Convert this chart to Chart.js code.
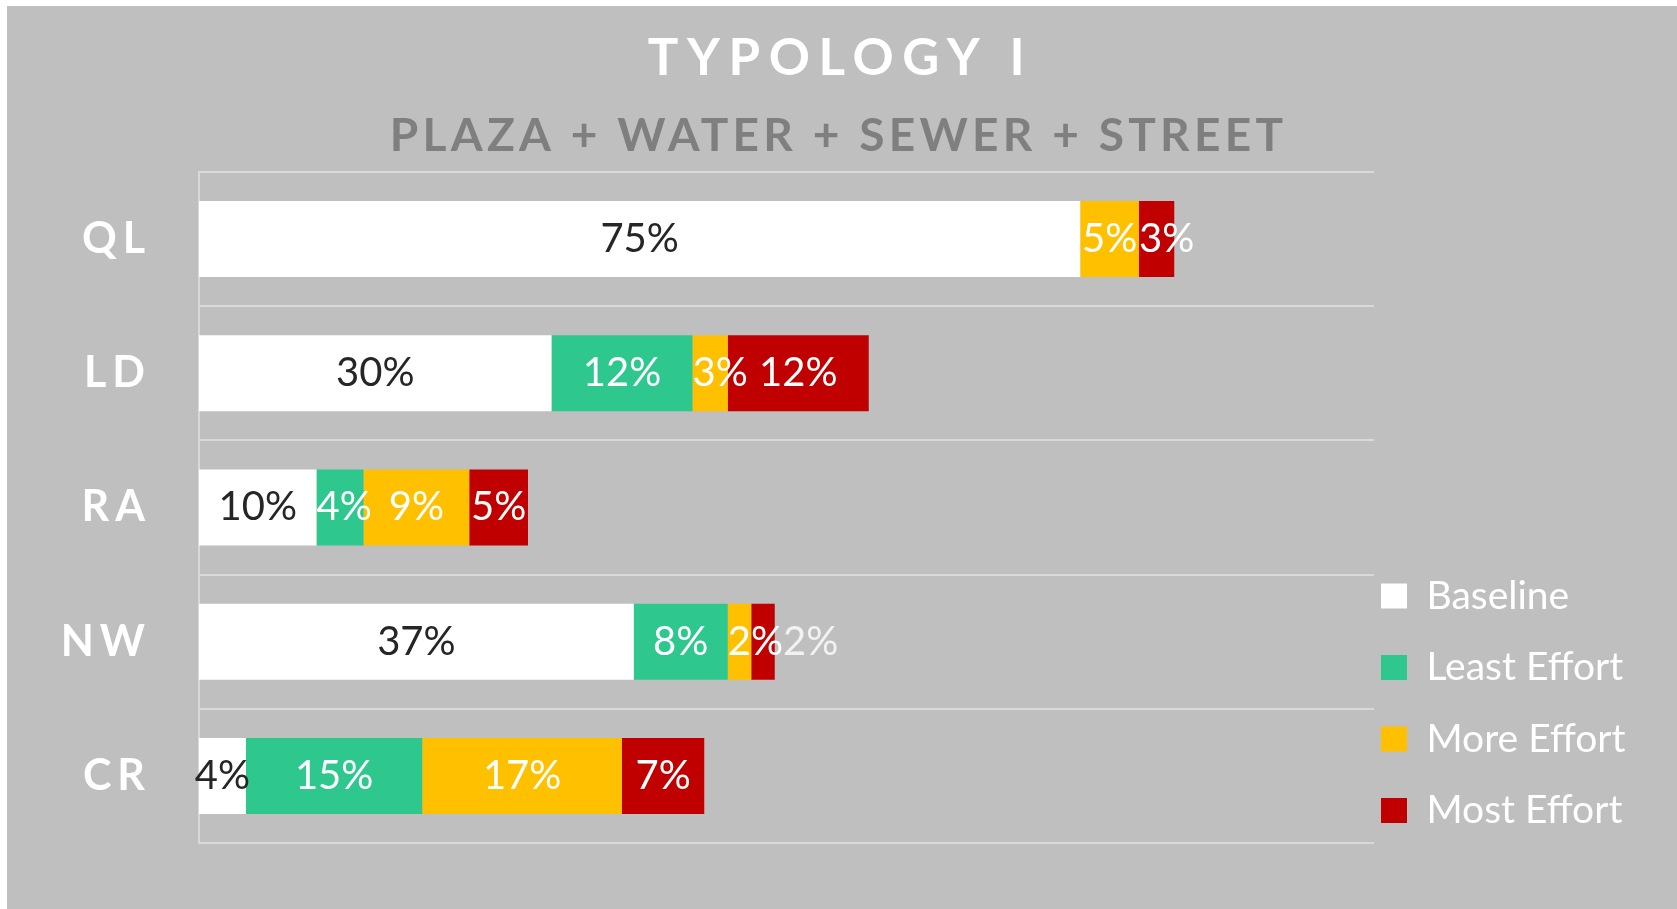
<!DOCTYPE html>
<html><head><meta charset="utf-8">
<script src="https://cdn.jsdelivr.net/npm/chart.js@4.4.1/dist/chart.umd.min.js"></script>
<style>
html,body{margin:0;padding:0;background:#fff;width:1677px;height:909px;overflow:hidden}
#wrap{position:absolute;left:7px;top:6px;width:1670px;height:903px;background:#bfbfbf}
canvas{display:block}
</style></head><body>
<div id="wrap"><canvas id="c" width="1670" height="903"></canvas></div>
<script>
const titleText = 'TYPOLOGY I';
const subtitleText = 'PLAZA + WATER + SEWER + STREET';
const categories = ['QL', 'LD', 'RA', 'NW', 'CR'];
const seriesNames = ['Baseline', 'Least Effort', 'More Effort', 'Most Effort'];
const baseline    = [75, 30, 10, 37, 4];
const leastEffort = [0, 12, 4, 8, 15];
const moreEffort  = [5, 3, 9, 2, 17];
const mostEffort  = [3, 12, 5, 2, 7];
const axisMin = 0;
const axisMax = 100;

const FONT = 'Lato';
const LEGEND_SHIFT = {x: -25.5, y: 19.5};
const TITLE_SHIFT = {x: 6.5, y: 0};
const SUBTITLE_SHIFT = {x: 4.5, y: 0};

function wrapMethod(obj, name, spacing, shift) {
  const orig = obj[name];
  obj[name] = function (...args) {
    const c = this.ctx;
    c.save();
    c.letterSpacing = spacing;
    if (shift) c.translate(shift.x, shift.y);
    const r = orig.apply(this, args);
    c.restore();
    return r;
  };
}

const spacingPlugin = {
  id: 'spacing',
  beforeDraw(chart) {
    chart.boxes.forEach(box => {
      if (box._spacingWrapped) return;
      box._spacingWrapped = true;
      if (box === chart.legend) wrapMethod(box, 'draw', '0px', LEGEND_SHIFT);
      else if (box === chart.titleBlock) wrapMethod(box, 'draw', '8.6px', TITLE_SHIFT);
      else if (box.options && box.options.text === subtitleText) wrapMethod(box, 'draw', '4.3px', SUBTITLE_SHIFT);
      else if (box.id === 'y') wrapMethod(box, 'drawLabels', '6px');
    });
  }
};

const labelPlugin = {
  id: 'segLabels',
  afterDatasetsDraw(chart) {
    const ctx = chart.ctx;
    ctx.save();
    ctx.letterSpacing = '0px';
    ctx.font = '40px ' + FONT;
    ctx.textBaseline = 'middle';
    ctx.textAlign = 'left';
    chart.data.labels.forEach((cat, i) => {
      let barEnd = -Infinity;
      chart.data.datasets.forEach((ds, d) => {
        const el = chart.getDatasetMeta(d).data[i];
        if (el) barEnd = Math.max(barEnd, el.x);
      });
      let prevRight = -Infinity;
      chart.data.datasets.forEach((ds, d) => {
        const v = ds.data[i];
        if (!v) return;
        const el = chart.getDatasetMeta(d).data[i];
        const txt = v + '%';
        const w = ctx.measureText(txt).width;
        let left = (el.base + el.x) / 2 - w / 2;
        if (d > 0) left = Math.max(left, el.base);
        left = Math.max(left, prevRight);
        const outside = left >= barEnd - 1;
        ctx.fillStyle = outside ? '#f2f2f2' : ds.labelColor;
        ctx.fillText(txt, left, el.y);
        prevRight = left + w;
      });
    });
    ctx.restore();
  }
};

const colors = ['#ffffff', '#2ec88f', '#ffc000', '#c00000'];
const labelColors = ['#262626', '#ffffff', '#ffffff', '#ffffff'];
const seriesData = [baseline, leastEffort, moreEffort, mostEffort];

const chart = new Chart(document.getElementById('c'), {
  type: 'bar',
  data: {
    labels: categories,
    datasets: seriesNames.map((name, k) => ({
      label: name,
      data: seriesData[k],
      backgroundColor: colors[k],
      borderWidth: 0,
      labelColor: labelColors[k],
      categoryPercentage: 0.566,
      barPercentage: 1
    }))
  },
  options: {
    indexAxis: 'y',
    responsive: false,
    animation: false,
    events: [],
    layout: {padding: {left: 0, right: 16, top: 0, bottom: 66}},
    scales: {
      x: {stacked: true, display: false, min: axisMin, max: axisMax},
      y: {
        stacked: true,
        grid: {color: '#d9d9d9', lineWidth: 2, drawTicks: false, offset: true},
        border: {display: true, color: '#d9d9d9', width: 2},
        ticks: {color: '#ffffff', font: {family: FONT, size: 43, weight: 'bold'}, padding: 48},
        afterFit(scale) { scale.width = 192; scale.paddingTop = 0; scale.paddingBottom = 0; }
      }
    },
    plugins: {
      tooltip: {enabled: false},
      title: {display: true, text: titleText, color: '#ffffff',
        font: {family: FONT, size: 51, weight: 'bold', lineHeight: 1}, padding: {top: 27.5, bottom: 0}},
      subtitle: {display: true, text: subtitleText, color: '#7f7f7f',
        font: {family: FONT, size: 46, weight: 'bold', lineHeight: 1}, padding: {top: 28.5, bottom: 13}},
      legend: {position: 'right', align: 'end',
        labels: {color: '#ffffff', font: {family: FONT, size: 39}, boxWidth: 26, boxHeight: 25, padding: 32.5}}
    }
  },
  plugins: [spacingPlugin, labelPlugin]
});
</script>
</body></html>
